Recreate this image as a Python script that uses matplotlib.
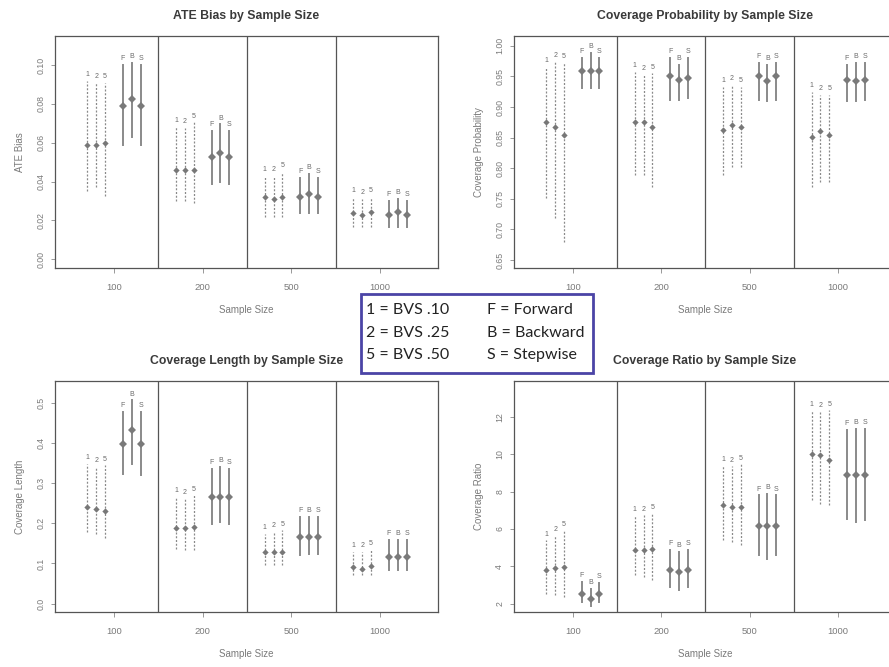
import matplotlib
matplotlib.use("Agg")
import matplotlib.pyplot as plt
from matplotlib.patches import Rectangle

# ---- data -------------------------------------------------------------
sample_sizes = ["100", "200", "500", "1000"]
methods = ["1", "2", "5", "F", "B", "S"]
method_offsets = [-0.3, -0.2, -0.1, 0.1, 0.2, 0.3]
bvs_methods = ["1", "2", "5"]

# ATE bias: low / median / high per sample size, per method
ate_low = [
    [0.035, 0.037, 0.0325, 0.059, 0.063, 0.059],
    [0.030, 0.030, 0.029, 0.039, 0.040, 0.039],
    [0.0217, 0.0217, 0.0217, 0.024, 0.024, 0.0237],
    [0.0165, 0.0165, 0.0165, 0.0165, 0.0165, 0.0165],
]
ate_mid = [
    [0.059, 0.059, 0.060, 0.079, 0.0825, 0.079],
    [0.046, 0.046, 0.046, 0.0525, 0.0547, 0.0525],
    [0.032, 0.031, 0.032, 0.032, 0.0335, 0.032],
    [0.0237, 0.0227, 0.0242, 0.0227, 0.0242, 0.0227],
]
ate_high = [
    [0.0917, 0.091, 0.091, 0.100, 0.101, 0.100],
    [0.068, 0.0675, 0.0705, 0.066, 0.0695, 0.066],
    [0.043, 0.043, 0.045, 0.042, 0.044, 0.042],
    [0.032, 0.031, 0.032, 0.030, 0.031, 0.030],
]

# Coverage probability
cp_low = [
    [0.752, 0.719, 0.680, 0.931, 0.931, 0.931],
    [0.789, 0.789, 0.770, 0.912, 0.912, 0.915],
    [0.789, 0.802, 0.802, 0.912, 0.909, 0.912],
    [0.770, 0.778, 0.778, 0.909, 0.909, 0.912],
]
cp_mid = [
    [0.876, 0.868, 0.855, 0.959, 0.959, 0.959],
    [0.876, 0.876, 0.868, 0.950, 0.944, 0.947],
    [0.863, 0.871, 0.868, 0.951, 0.943, 0.951],
    [0.851, 0.860, 0.855, 0.944, 0.943, 0.944],
]
cp_high = [
    [0.966, 0.974, 0.972, 0.980, 0.988, 0.980],
    [0.958, 0.953, 0.955, 0.980, 0.969, 0.980],
    [0.933, 0.936, 0.933, 0.972, 0.969, 0.972],
    [0.925, 0.920, 0.920, 0.969, 0.972, 0.972],
]

# Coverage length
cl_low = [
    [0.178, 0.174, 0.162, 0.323, 0.348, 0.319],
    [0.137, 0.133, 0.133, 0.199, 0.203, 0.199],
    [0.095, 0.095, 0.095, 0.120, 0.124, 0.124],
    [0.070, 0.070, 0.070, 0.083, 0.083, 0.083],
]
cl_mid = [
    [0.240, 0.236, 0.230, 0.398, 0.431, 0.398],
    [0.187, 0.187, 0.191, 0.265, 0.265, 0.265],
    [0.129, 0.129, 0.129, 0.166, 0.166, 0.166],
    [0.091, 0.087, 0.093, 0.116, 0.116, 0.116],
]
cl_high = [
    [0.348, 0.340, 0.344, 0.477, 0.506, 0.477],
    [0.265, 0.261, 0.269, 0.336, 0.340, 0.336],
    [0.174, 0.178, 0.182, 0.216, 0.216, 0.216],
    [0.129, 0.129, 0.133, 0.158, 0.158, 0.158],
]

# Coverage ratio
cr_low = [
    [2.54, 2.45, 2.36, 2.09, 1.86, 2.09],
    [3.52, 3.43, 3.25, 2.89, 2.71, 2.89],
    [5.39, 5.30, 5.13, 4.59, 4.41, 4.59],
    [7.54, 7.36, 7.27, 6.55, 6.38, 6.46],
]
cr_mid = [
    [3.82, 3.91, 3.96, 2.50, 2.27, 2.54],
    [4.89, 4.89, 4.95, 3.79, 3.70, 3.79],
    [7.27, 7.18, 7.18, 6.14, 6.14, 6.14],
    [10.04, 9.98, 9.71, 8.88, 8.88, 8.88],
]
cr_high = [
    [5.39, 5.66, 5.93, 3.16, 2.80, 3.11],
    [6.73, 6.73, 6.82, 4.86, 4.77, 4.86],
    [9.41, 9.36, 9.46, 7.80, 7.89, 7.80],
    [12.36, 12.27, 12.36, 11.29, 11.38, 11.38],
]

ate_ticks = [0.00, 0.02, 0.04, 0.06, 0.08, 0.10]
cp_ticks = [0.65, 0.70, 0.75, 0.80, 0.85, 0.90, 0.95, 1.00]
cl_ticks = [0.0, 0.1, 0.2, 0.3, 0.4, 0.5]
cr_ticks = [2, 4, 6, 8, 10, 12]

legend_left = ["1 = BVS .10", "2 = BVS .25", "5 = BVS .50"]
legend_right = ["F = Forward", "B = Backward", "S = Stepwise"]

# ---- figure -----------------------------------------------------------
W, H = 889, 667
fig = plt.figure(figsize=(W / 100, H / 100), dpi=100)
fig.patch.set_facecolor("white")
plt.rcParams["font.family"] = ["Liberation Sans", "DejaVu Sans"]

TEXT = "#3a3a3a"
TICKTXT = "#7a7a7a"
LINE = "#8a8a8a"
FRAME = "#555555"


def px_axes(left, top, right, bottom):
    return fig.add_axes([left / W, 1 - bottom / H, (right - left) / W, (bottom - top) / H])


def panel(ax, low, mid, high, ticks, fmt, ylim, title, ylabel):
    ax.set_xlim(0.335, 4.654)
    ax.set_ylim(*ylim)
    span = ylim[1] - ylim[0]
    for g in range(len(sample_sizes)):
        for m, name in enumerate(methods):
            x = g + 1 + method_offsets[m]
            lo, md, hi = low[g][m], mid[g][m], high[g][m]
            if name in bvs_methods:
                ax.plot([x, x], [lo, hi], color=LINE, lw=0.9,
                        linestyle=(0, (1.6, 1.4)), solid_capstyle="butt")
                ax.plot([x], [md], marker="D", ms=3.2, color="#777777", mew=0)
            else:
                ax.plot([x, x], [lo, hi], color=LINE, lw=1.4)
                ax.plot([x], [md], marker="D", ms=3.6, color="#7a7a7a", mew=0)
            ax.text(x, hi + span * 0.012, name, ha="center", va="bottom",
                    fontsize=5.0, color="#6a6a6a")
    for sep in (1.5, 2.5, 3.5):
        ax.axvline(sep, color=FRAME, lw=0.9)
    for sp in ax.spines.values():
        sp.set_color(FRAME)
        sp.set_linewidth(0.9)
    ax.set_xticks(range(1, len(sample_sizes) + 1))
    ax.set_xticklabels(sample_sizes)
    ax.set_yticks(ticks)
    ax.set_yticklabels([fmt.format(t) for t in ticks])
    ax.tick_params(axis="x", length=3.5, width=0.6, color="#888888",
                   labelsize=6.8, labelcolor=TICKTXT, pad=7)
    ax.tick_params(axis="y", length=3.0, width=0.6, color="#888888",
                   labelsize=6.3, labelcolor=TICKTXT, pad=4, labelrotation=90)
    for lbl in ax.get_yticklabels():
        lbl.set_verticalalignment("center")
    ax.set_title(title, fontsize=8.8, fontweight="bold", color=TEXT, pad=12)
    ax.set_xlabel("Sample Size", fontsize=7.0, color=TICKTXT, labelpad=10)
    ax.set_ylabel(ylabel, fontsize=7.0, color=TICKTXT, labelpad=8)


ax1 = px_axes(55, 36, 438, 268)
panel(ax1, ate_low, ate_mid, ate_high, ate_ticks, "{:.2f}", (-0.0045, 0.115),
      "ATE Bias by Sample Size", "ATE Bias")

ax2 = px_axes(514, 36, 896, 268)
panel(ax2, cp_low, cp_mid, cp_high, cp_ticks, "{:.2f}", (0.637, 1.016),
      "Coverage Probability by Sample Size", "Coverage Probability")

ax3 = px_axes(55, 381, 438, 612)
panel(ax3, cl_low, cl_mid, cl_high, cl_ticks, "{:.1f}", (-0.021, 0.554),
      "Coverage Length by Sample Size", "Coverage Length")

ax4 = px_axes(514, 381, 896, 612)
panel(ax4, cr_low, cr_mid, cr_high, cr_ticks, "{:d}", (1.55, 13.93),
      "Coverage Ratio by Sample Size", "Coverage Ratio")

# ---- key box ----------------------------------------------------------
bx0, by0, bx1, by1 = 361, 294, 593, 373
fig.patches.append(Rectangle((bx0 / W, 1 - by1 / H), (bx1 - bx0) / W, (by1 - by0) / H,
                             transform=fig.transFigure, facecolor="white",
                             edgecolor="#4b44a6", lw=2.0, zorder=5))
rows_y = [310, 333, 355]
for ly, lt, rt in zip(rows_y, legend_left, legend_right):
    fig.text(366 / W, 1 - ly / H, lt, fontsize=11.5, family="Lato",
             color="#222222", va="center", ha="left", zorder=6)
    fig.text(487 / W, 1 - ly / H, rt, fontsize=11.5, family="Lato",
             color="#222222", va="center", ha="left", zorder=6)

fig.savefig("out.png", dpi=100, facecolor="white")
